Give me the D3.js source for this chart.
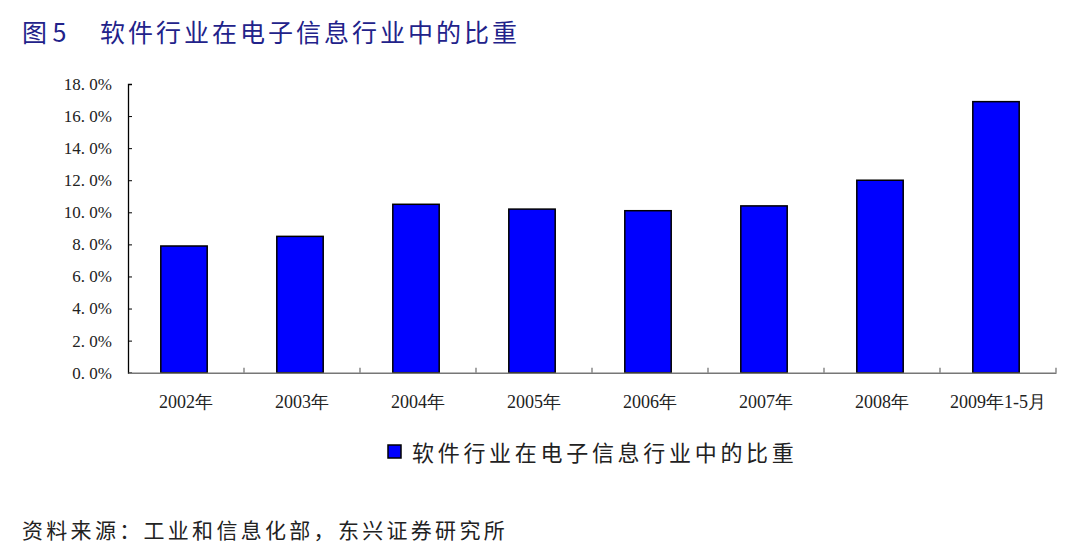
<!DOCTYPE html>
<html><head><meta charset="utf-8">
<script src="https://cdn.jsdelivr.net/npm/d3@7"></script>
<style>body{margin:0;background:#fff}</style>
</head><body>
<svg id="c" width="1080" height="559"></svg>
<script>
const categories = ["2002年","2003年","2004年","2005年","2006年","2007年","2008年","2009年1-5月"];
const values = [7.9, 8.5, 10.5, 10.2, 10.1, 10.4, 12.0, 16.9];
const yTicks = [0,2,4,6,8,10,12,14,16,18];
const seriesName = "软件行业在电子信息行业中的比重";

const svg = d3.select("#c");
const x0 = 128, x1 = 1056, yTop = 84, yBot = 372.7;
const x = d3.scaleBand().domain(categories).range([x0, x1]).paddingInner(0.6).paddingOuter(0.3);
const xb = d3.scaleBand().domain(categories).range([x0, x1]);
const y = d3.scaleLinear().domain([0, 18]).range([yBot, yTop]);
const cjk = "'Noto Sans CJK SC', sans-serif";
const serif = "'Liberation Serif', 'DejaVu Serif', serif";

svg.append("text").attr("x", 22).attr("y", 42).attr("fill", "#22228a")
  .style("font-family", cjk).style("font-size", "25px")
  .text("图 5").append("tspan").attr("x", 100).style("letter-spacing", "3px").text(seriesName);

// y axis
const ya = svg.append("g").attr("transform", `translate(${x0},0)`)
  .call(d3.axisLeft(y).tickValues(yTicks).tickSize(-4).tickPadding(16).tickFormat(d => d.toFixed(1).replace(".", ". ") + "%"));
ya.select(".domain").attr("stroke", "#000").attr("stroke-width", 1.3);
ya.selectAll(".tick line").attr("stroke", "#000");
ya.selectAll(".tick text").style("font-family", serif).style("font-size", "17px").attr("fill", "#222");

// bars
svg.append("g").selectAll("rect").data(values).join("rect")
  .attr("x", (d, i) => x(categories[i]) - 2)
  .attr("width", x.bandwidth())
  .attr("y", d => y(d))
  .attr("height", d => yBot - y(d))
  .attr("fill", "#0000ff").attr("stroke", "#000").attr("stroke-width", 1.5);

// x axis
const xa = svg.append("g").attr("transform", `translate(0,${yBot})`)
  .call(d3.axisBottom(xb).tickSize(0).tickPadding(23));
xa.select(".domain").attr("stroke", "#777").attr("stroke-width", 1.5);
xa.selectAll(".tick text").style("font-family", serif).style("font-size", "18px").attr("fill", "#222");
svg.append("g").selectAll("line").data(d3.range(1, categories.length + 1)).join("line")
  .attr("x1", i => xb.range()[0] + i * xb.step()).attr("x2", i => xb.range()[0] + i * xb.step())
  .attr("y1", yBot).attr("y2", yBot - 5).attr("stroke", "#777").attr("stroke-width", 1.3);

// legend
svg.append("rect").attr("x", 388).attr("y", 445).attr("width", 13).attr("height", 13)
  .attr("fill", "#0000ff").attr("stroke", "#000").attr("stroke-width", 1.5);
svg.append("text").attr("x", 412).attr("y", 461).attr("fill", "#222")
  .style("font-family", cjk).style("font-size", "22px").style("letter-spacing", "3.7px").text(seriesName);

svg.append("text").attr("x", 22).attr("y", 538).attr("fill", "#222")
  .style("font-family", cjk).style("font-size", "21px").style("letter-spacing", "3.3px")
  .text("资料来源：工业和信息化部，东兴证券研究所");
</script>
</body></html>
